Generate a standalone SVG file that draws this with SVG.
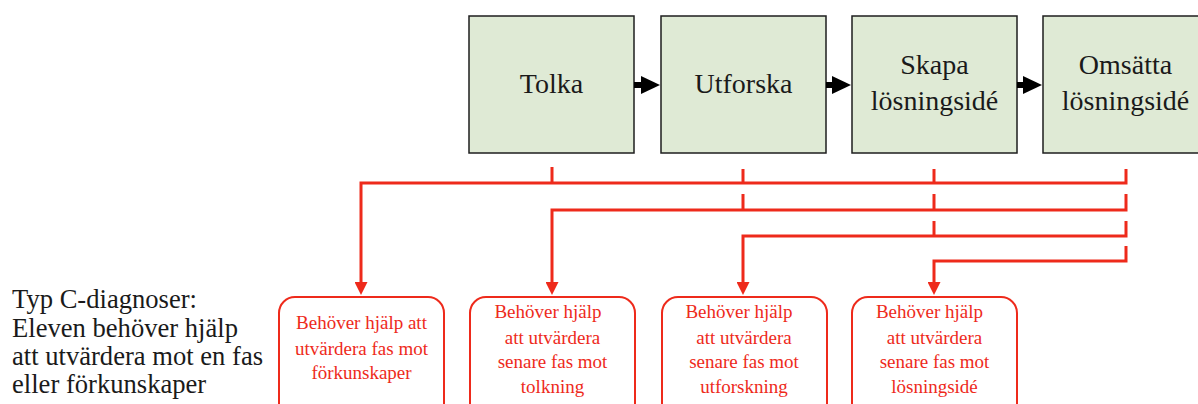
<svg xmlns="http://www.w3.org/2000/svg" width="1198" height="404" viewBox="0 0 1198 404">
  <style>
    .phase rect { fill: #dfead5; stroke: #1e1e1e; stroke-width: 1.5; }
    .phase text { font-family: "Liberation Serif", "Times New Roman", serif; font-size: 28px; fill: #1a1a1a; text-anchor: middle; }
    .need rect { fill: #ffffff; stroke: #ee2a1b; stroke-width: 2; }
    .need text { font-family: "Liberation Serif", "Times New Roman", serif; font-size: 19px; fill: #ee2a1b; text-anchor: middle; }
    .flow { stroke: #000; stroke-width: 6; fill: none; }
    .diag { stroke: #ee2a1b; stroke-width: 3; fill: none; }
    .caption { font-family: "Liberation Serif", "Times New Roman", serif; font-size: 26.6px; fill: #1a1a1a; }
  </style>
  <defs>
    <marker id="blackHead" markerUnits="userSpaceOnUse" markerWidth="19" markerHeight="18" refX="2" refY="9" orient="auto">
      <path d="M0,0 L19,9 L0,18 z" fill="#000"/>
    </marker>
    <marker id="redHead" markerUnits="userSpaceOnUse" markerWidth="13" markerHeight="13" refX="2" refY="6.5" orient="auto">
      <path d="M0,0 L13,6.5 L0,13 z" fill="#ee2a1b"/>
    </marker>
  </defs>

  <rect width="1198" height="404" fill="#ffffff"/>

  <!-- process phases -->
  <g id="tolka" class="phase">
    <rect x="469" y="16" width="165" height="137"/>
    <text x="551.5" y="93">Tolka</text>
  </g>
  <g id="utforska" class="phase">
    <rect x="661" y="16" width="165" height="137"/>
    <text x="743.5" y="93">Utforska</text>
  </g>
  <g id="skapa" class="phase">
    <rect x="852" y="16" width="165" height="137"/>
    <text x="934.5" y="74">Skapa</text>
    <text x="934.5" y="110">lösningsidé</text>
  </g>
  <g id="omsatta" class="phase">
    <rect x="1043" y="16" width="165" height="137"/>
    <text x="1125.5" y="74">Omsätta</text>
    <text x="1125.5" y="110">lösningsidé</text>
  </g>

  <!-- diagnosis boxes -->
  <g id="need-forkunskaper" class="need">
    <rect x="279" y="297" width="165" height="137" rx="16"/>
    <text x="361.5" y="329">Behöver hjälp att</text>
    <text x="361.5" y="355">utvärdera fas mot</text>
    <text x="361.5" y="379">förkunskaper</text>
  </g>
  <g id="need-tolkning" class="need">
    <rect x="470" y="297" width="165" height="137" rx="16"/>
    <text x="548" y="318">Behöver hjälp</text>
    <text x="552.5" y="344">att utvärdera</text>
    <text x="552.5" y="368">senare fas mot</text>
    <text x="552.5" y="393">tolkning</text>
  </g>
  <g id="need-utforskning" class="need">
    <rect x="662" y="297" width="165" height="137" rx="16"/>
    <text x="739" y="318">Behöver hjälp</text>
    <text x="744" y="344">att utvärdera</text>
    <text x="744" y="368">senare fas mot</text>
    <text x="744" y="393">utforskning</text>
  </g>
  <g id="need-losningside" class="need">
    <rect x="852" y="297" width="165" height="137" rx="16"/>
    <text x="929.5" y="318">Behöver hjälp</text>
    <text x="934.5" y="344">att utvärdera</text>
    <text x="934.5" y="368">senare fas mot</text>
    <text x="934.5" y="393">lösningsidé</text>
  </g>

  <!-- caption -->
  <g id="caption">
    <text class="caption" x="12" y="308">Typ C-diagnoser:</text>
    <text class="caption" x="12" y="337">Eleven behöver hjälp</text>
    <text class="caption" x="12" y="365">att utvärdera mot en fas</text>
    <text class="caption" x="12" y="393">eller förkunskaper</text>
  </g>

  <!-- connectors -->
  <g id="connectors">
    <path class="flow" d="M634,85 H643" marker-end="url(#blackHead)"/>
    <path class="flow" d="M826,85 H834" marker-end="url(#blackHead)"/>
    <path class="flow" d="M1017,85 H1025" marker-end="url(#blackHead)"/>

    <path class="diag" d="M1126,169 V183 H361 V284" marker-end="url(#redHead)"/>
    <path class="diag" d="M552,167 V183 M743,169 V183 M934,169 V183"/>

    <path class="diag" d="M1126,194 V210 H552 V284" marker-end="url(#redHead)"/>
    <path class="diag" d="M743,194 V210 M934,194 V210"/>

    <path class="diag" d="M1126,221 V236 H743 V284" marker-end="url(#redHead)"/>
    <path class="diag" d="M934,221 V236"/>

    <path class="diag" d="M1126,246 V261 H934 V284" marker-end="url(#redHead)"/>
  </g>
</svg>
